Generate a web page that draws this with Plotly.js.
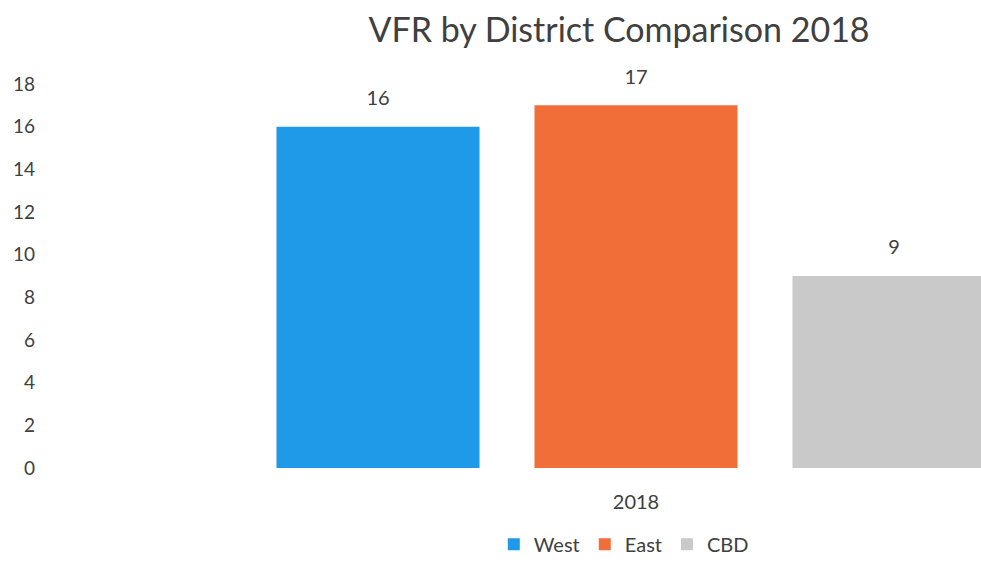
<!DOCTYPE html>
<html>
<head>
<meta charset="utf-8">
<script src="https://cdn.plot.ly/plotly-3.0.1.min.js"></script>
<style>html,body{margin:0;padding:0;background:#fff;}#chart{width:981px;height:565px;}</style>
</head>
<body>
<div id="chart"></div>
<script>
var categories = ['2018'];
var seriesNames = ['West', 'East', 'CBD'];
var westValues = [16];
var eastValues = [17];
var cbdValues = [9];
var seriesColors = ['#1f9ae8', '#f26e38', '#c9c9c9'];
var yTickValues = [0, 2, 4, 6, 8, 10, 12, 14, 16, 18];

var allValues = [westValues, eastValues, cbdValues];
var textColor = '#404040';
var fontFamily = 'Lato, "Open Sans", sans-serif';

var traces = seriesNames.map(function (name, i) {
  return {
    type: 'bar',
    name: name,
    x: categories,
    y: allValues[i],
    marker: {color: seriesColors[i]},
    text: allValues[i].map(function (v) { return String(v); }),
    texttemplate: '<span style="font-size:20px">%{text}</span><br> ',
    textposition: 'outside',
    cliponaxis: false,
    textfont: {family: fontFamily, size: 12, color: textColor},
    hoverinfo: 'none'
  };
});

var layout = {
  width: 981,
  height: 565,
  paper_bgcolor: '#ffffff',
  plot_bgcolor: '#ffffff',
  margin: {l: 36, r: 0, t: 84, b: 97, autoexpand: false},
  font: {family: fontFamily, color: textColor, size: 20},
  title: {
    text: 'VFR by District Comparison 2018',
    font: {family: fontFamily, size: 34, color: textColor},
    xref: 'container', x: 0.631, xanchor: 'center',
    yref: 'container', y: 0.947, yanchor: 'middle'
  },
  barmode: 'group',
  bargap: 0.355,
  bargroupgap: 0.213,
  showlegend: true,
  legend: {
    orientation: 'h',
    xref: 'paper', x: 0.622, xanchor: 'center',
    yref: 'paper', y: -0.2495, yanchor: 'bottom',
    font: {family: fontFamily, size: 20, color: textColor},
    itemwidth: 30,
    traceorder: 'normal'
  },
  xaxis: {
    type: 'category',
    range: [-0.5, 0.2875],
    showgrid: false,
    zeroline: false,
    showline: false,
    ticks: '',
    ticklabelstandoff: 20,
    tickfont: {family: fontFamily, size: 20, color: textColor},
    fixedrange: true
  },
  yaxis: {
    range: [0, 18],
    tickvals: yTickValues,
    showgrid: false,
    zeroline: false,
    showline: false,
    ticks: '',
    tickfont: {family: fontFamily, size: 19, color: textColor},
    fixedrange: true
  }
};

Plotly.newPlot('chart', traces, layout, {displayModeBar: false, staticPlot: true});
</script>
</body>
</html>
